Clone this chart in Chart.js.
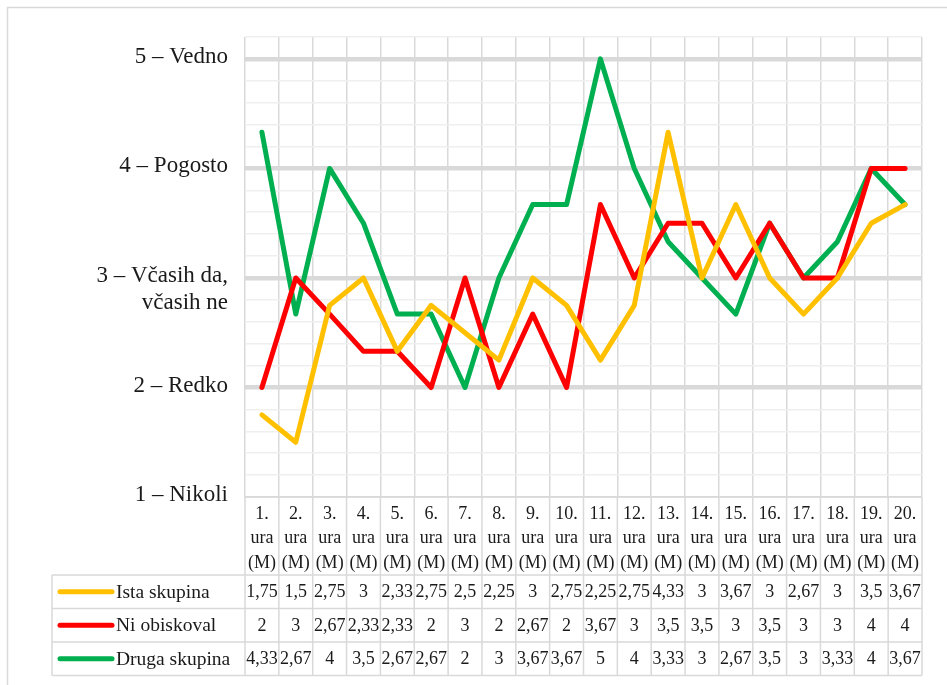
<!DOCTYPE html>
<html>
<head>
<meta charset="utf-8">
<script src="https://cdn.jsdelivr.net/npm/chart.js@4.4.1/dist/chart.umd.min.js"></script>
<style>
  html, body { margin: 0; padding: 0; background: #fff; }
</style>
</head>
<body>
<canvas id="chart" width="947" height="685"></canvas>
<script>
// Data (Excel line chart with data table)
const categories = [
  '1. ura (M)', '2. ura (M)', '3. ura (M)', '4. ura (M)', '5. ura (M)',
  '6. ura (M)', '7. ura (M)', '8. ura (M)', '9. ura (M)', '10. ura (M)',
  '11. ura (M)', '12. ura (M)', '13. ura (M)', '14. ura (M)', '15. ura (M)',
  '16. ura (M)', '17. ura (M)', '18. ura (M)', '19. ura (M)', '20. ura (M)'
];
const seriesNames = ['Ista skupina', 'Ni obiskoval', 'Druga skupina'];
const istaSkupina = [1.75, 1.5, 2.75, 3, 2.33, 2.75, 2.5, 2.25, 3, 2.75, 2.25, 2.75, 4.33, 3, 3.67, 3, 2.67, 3, 3.5, 3.67];
const niObiskoval = [2, 3, 2.67, 2.33, 2.33, 2, 3, 2, 2.67, 2, 3.67, 3, 3.5, 3.5, 3, 3.5, 3, 3, 4, 4];
const drugaSkupina = [4.33, 2.67, 4, 3.5, 2.67, 2.67, 2, 3, 3.67, 3.67, 5, 4, 3.33, 3, 2.67, 3.5, 3, 3.33, 4, 3.67];
const yTickValues = [1, 2, 3, 4, 5];
const yTickLabels = [['1 – Nikoli'], ['2 – Redko'], ['3 – Včasih da,', 'včasih ne'], ['4 – Pogosto'], ['5 – Vedno']];
const seriesColors = ['#FFC000', '#FF0000', '#00B050'];

const FONT = '"Liberation Serif", "Times New Roman", serif';
const GRID = '#D9D9D9';

const fmt = v => String(v).replace('.', ',');
const isMajor = v => Math.abs(v - Math.round(v)) < 1e-6;

// Draws the y labels, the data table under the plot and the outer frame
const tablePlugin = {
  id: 'dataTable',
  afterDraw(chart) {
    const ctx = chart.ctx;
    const xs = chart.scales.x;
    const ys = chart.scales.y;
    const area = chart.chartArea;
    const seriesData = [istaSkupina, niObiskoval, drugaSkupina];

    ctx.save();
    ctx.fillStyle = '#1a1a1a';

    // y axis labels, first line sits on the tick
    ctx.font = '23px ' + FONT;
    ctx.textAlign = 'right';
    ctx.textBaseline = 'middle';
    yTickValues.forEach((v, i) => {
      const y = ys.getPixelForValue(v) - 2;
      yTickLabels[i].forEach((line, j) => ctx.fillText(line, 228, y + j * 27));
    });

    // table geometry
    const half = (xs.getPixelForValue(1) - xs.getPixelForValue(0)) / 2;
    const tTop = area.bottom;
    const headH = 78;
    const rowH = 33.5;
    const rowsTop = tTop + headH;
    const tBottom = rowsTop + rowH * 3;
    const legLeft = 52;

    ctx.strokeStyle = GRID;
    ctx.lineWidth = 1.5;
    ctx.beginPath();
    // horizontal lines
    ctx.moveTo(area.left, tTop); ctx.lineTo(area.right, tTop);
    for (let r = 0; r <= 3; r++) {
      const y = rowsTop + r * rowH;
      ctx.moveTo(legLeft, y); ctx.lineTo(area.right, y);
    }
    // vertical lines
    for (let i = 0; i <= categories.length; i++) {
      const x = xs.getPixelForValue(0) - half + i * half * 2;
      ctx.moveTo(x, tTop); ctx.lineTo(x, tBottom);
    }
    ctx.moveTo(legLeft, rowsTop); ctx.lineTo(legLeft, tBottom);
    ctx.stroke();

    // header: category names in three lines
    ctx.font = '18px ' + FONT;
    ctx.textAlign = 'center';
    ctx.fillStyle = '#1a1a1a';
    categories.forEach((c, i) => {
      const x = xs.getPixelForValue(i);
      c.split(' ').forEach((part, j) => ctx.fillText(part, x, tTop + 17 + j * 24.5));
    });

    // value rows + legend keys
    seriesData.forEach((arr, r) => {
      const yMid = rowsTop + r * rowH + rowH / 2 + 1;
      ctx.font = '18px ' + FONT;
      ctx.textAlign = 'center';
      arr.forEach((v, i) => ctx.fillText(fmt(v), xs.getPixelForValue(i), yMid));

      ctx.strokeStyle = seriesColors[r];
      ctx.lineWidth = 5;
      ctx.lineCap = 'round';
      ctx.beginPath();
      ctx.moveTo(60, yMid - 1); ctx.lineTo(112, yMid - 1);
      ctx.stroke();

      ctx.font = '19.5px ' + FONT;
      ctx.textAlign = 'left';
      ctx.fillText(seriesNames[r], 116, yMid);
    });

    // outer chart frame
    ctx.strokeStyle = GRID;
    ctx.lineWidth = 1.5;
    ctx.strokeRect(7.5, 7.5, 1000, 1000);
    ctx.restore();
  }
};

const datasets = [istaSkupina, niObiskoval, drugaSkupina].map((data, i) => ({
  label: seriesNames[i],
  data: data,
  borderColor: seriesColors[i],
  backgroundColor: seriesColors[i],
  borderWidth: 5,
  pointRadius: 0,
  tension: 0,
  borderJoinStyle: 'round',
  borderCapStyle: 'round',
  fill: false
}));

new Chart(document.getElementById('chart'), {
  type: 'line',
  data: { labels: categories, datasets: datasets },
  options: {
    responsive: false,
    animation: false,
    devicePixelRatio: 1,
    layout: { padding: { left: 245, right: 25, top: 37, bottom: 188 } },
    plugins: { legend: { display: false }, tooltip: { enabled: false } },
    scales: {
      x: {
        type: 'category',
        offset: true,
        grid: { offset: true, color: GRID, lineWidth: 1.5, drawTicks: false },
        border: { display: false },
        ticks: { display: false }
      },
      y: {
        min: 1,
        max: 5.2,
        ticks: { display: false, stepSize: 0.2 },
        grid: {
          drawTicks: false,
          color: c => isMajor(c.tick.value) ? GRID : '#EFEFEF',
          lineWidth: c => (isMajor(c.tick.value) && c.tick.value > 1) ? 4.5 : 1.5
        },
        border: { display: false }
      }
    }
  },
  plugins: [tablePlugin]
});
</script>
</body>
</html>
